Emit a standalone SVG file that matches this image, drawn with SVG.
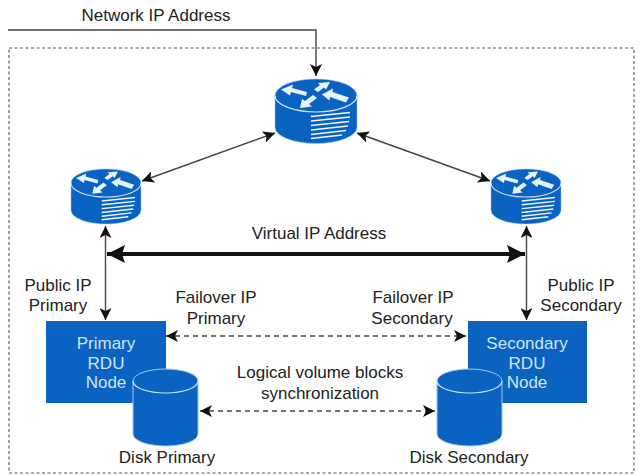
<svg xmlns="http://www.w3.org/2000/svg" xmlns:xlink="http://www.w3.org/1999/xlink" width="642" height="476" viewBox="0 0 642 476">
<style>
text{font-family:"Liberation Sans",Arial,sans-serif;font-size:17px;fill:#222;text-anchor:middle}
.w{fill:#cfe4f7}
.c{fill:none;stroke:#444;stroke-width:1.4}
.d{stroke-dasharray:5 4}
.blue{fill:#0b63c1}
.edge{fill:#0b63c1;stroke:#9cc8ef;stroke-width:1}
.sep{fill:none;stroke:#cfe4f7;stroke-width:1.2}
</style>
<defs>
<marker id="a" viewBox="0 0 12 12" refX="12" refY="6" markerWidth="12" markerHeight="12" markerUnits="userSpaceOnUse" orient="auto-start-reverse"><path d="M0 0L12 6L0 12L3 6Z" fill="#111"/></marker>
<marker id="b" viewBox="0 0 12 12" refX="12" refY="6" markerWidth="6" markerHeight="4.5" orient="auto-start-reverse"><path d="M0 0L12 6L0 12L2 6Z" fill="#111"/></marker>
<g id="router">
<path class="blue" d="M-41 0A41 16.500 0 0 1 41 0V32A41 16 0 0 1-41 32Z" stroke="#9cc8ef" stroke-width=".6"/>
<path class="sep" d="M-41 0A41 16.500 0 0 0 41 0"/>
<g fill="#e8f2fb">
<path d="M-35 -6L-23 -11L-24 -7.500L-9 -3.500L-10 .5L-25 -3.500L-26 0Z"/>
<path d="M14 -13.500L10 -6L8 -8L2 -3.500L-2 -6L4 -10.500L2 -12.500Z"/>
<path d="M6 -1L17 -7L16.500 -3.500L33 2L30 7L14 1.500L13.500 5Z"/>
<path d="M-16 12.500L-14 3.500L-11 5.500L-3 -.5L1 2.500L-7 8.500L-4 11Z"/>
</g>
<g stroke="#f0f6fc" stroke-width="1.7" fill="none">
<path d="M-5 21L34 17"/><path d="M-5 25.500L34 21.500"/><path d="M-5 30L33 26"/><path d="M-5 34.500L32 30.500"/><path d="M-5 39L30 35"/><path d="M-5 43L26 39.500"/>
</g>
</g>
<g id="disk">
<path class="edge" d="M-32.500 12A32.500 12 0 0 1 32.500 12V65A32.500 12 0 0 1-32.500 65Z"/>
<path class="sep" d="M-32.500 12A32.500 12 0 0 0 32.500 12"/>
</g>
</defs>
<rect id="boundary" x="9" y="48" width="625" height="425" fill="none" stroke="#555" stroke-width="1.1" stroke-dasharray="3 2.500"/>
<g id="connectors">
<path class="c" d="M8 30H316V76" marker-end="url(#a)"/>
<path class="c" d="M275 133L142 181" marker-start="url(#a)" marker-end="url(#a)"/>
<path class="c" d="M357 133L490 181" marker-start="url(#a)" marker-end="url(#a)"/>
<path class="c" d="M105.500 226V320" marker-start="url(#a)" marker-end="url(#a)"/>
<path class="c" d="M526.500 226V320" marker-start="url(#a)" marker-end="url(#a)"/>
<path d="M107 254H525" fill="none" stroke="#111" stroke-width="4" marker-start="url(#b)" marker-end="url(#b)"/>
<path class="c d" d="M166 336H466" marker-start="url(#a)" marker-end="url(#a)"/>
<path class="c d" d="M200 411H435" marker-start="url(#a)" marker-end="url(#a)"/>
</g>
<text x="156" y="21">Network IP Address</text>
<g id="router-top"><use xlink:href="#router" href="#router" transform="translate(316 95.500)"/></g>
<g id="router-left"><use xlink:href="#router" href="#router" transform="translate(106 183) scale(.854)"/></g>
<g id="router-right"><use xlink:href="#router" href="#router" transform="translate(526 183) scale(.854)"/></g>
<text x="319" y="239">Virtual IP Address</text>
<text x="58" y="291">Public IP</text><text x="58" y="311">Primary</text>
<text x="581" y="291">Public IP</text><text x="581" y="311">Secondary</text>
<text x="216" y="303">Failover IP</text><text x="216" y="324">Primary</text>
<text x="413" y="303">Failover IP</text><text x="412" y="324">Secondary</text>
<text x="320" y="378">Logical volume blocks</text><text x="320" y="399">synchronization</text>
<g id="primary-node"><rect class="blue" x="46" y="321" width="120" height="82"/>
<text class="w" x="106" y="349">Primary</text><text class="w" x="106" y="369">RDU</text><text class="w" x="106" y="388">Node</text></g>
<g id="secondary-node"><rect class="blue" x="468" y="321" width="119" height="82"/>
<text class="w" x="527" y="349">Secondary</text><text class="w" x="527" y="369">RDU</text><text class="w" x="527" y="388">Node</text></g>
<g id="disk-primary"><use xlink:href="#disk" href="#disk" transform="translate(165.500 369)"/><text x="167" y="463">Disk Primary</text></g>
<g id="disk-secondary"><use xlink:href="#disk" href="#disk" transform="translate(469.500 369)"/><text x="469" y="463">Disk Secondary</text></g>
</svg>
